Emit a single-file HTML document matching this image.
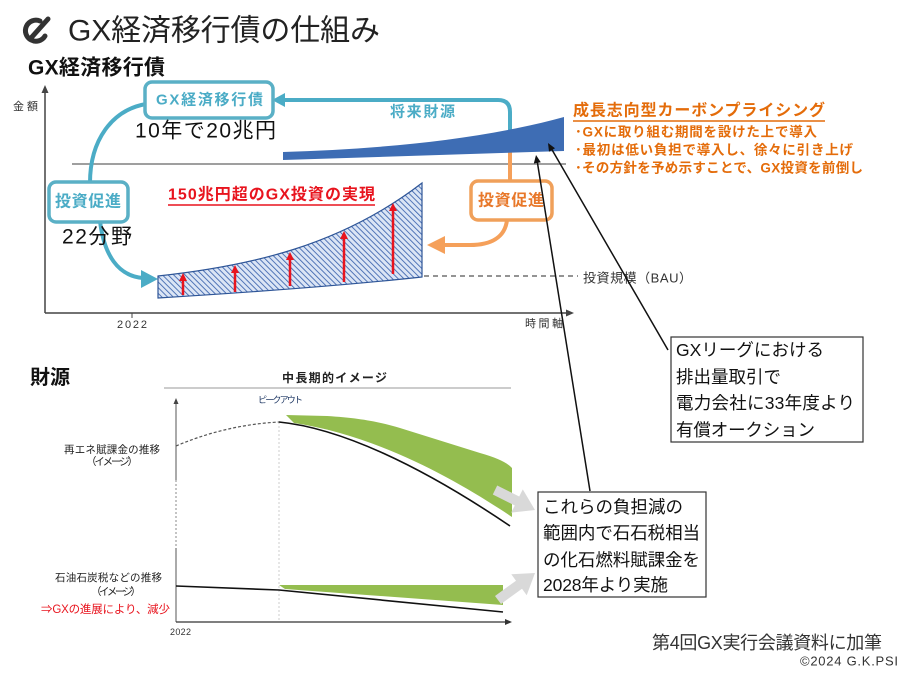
<!DOCTYPE html>
<html><head><meta charset="utf-8"><style>
html,body{margin:0;padding:0;background:#fff;}
svg{display:block;}
text{font-family:"Liberation Sans","Noto Sans CJK JP",sans-serif;dominant-baseline:central;}
</style></head><body>
<svg width="900" height="675" viewBox="0 0 900 675" xmlns="http://www.w3.org/2000/svg">
<defs>
<pattern id="h" width="4" height="4" patternUnits="userSpaceOnUse" patternTransform="rotate(-45)">
<rect width="4" height="4" fill="#dbe5f5"/>
<line x1="0" y1="0" x2="0" y2="4" stroke="#3a62ad" stroke-width="1.7"/>
</pattern>
</defs>
<rect width="900" height="675" fill="#fff"/>

<!-- icon -->
<path d="M40,21 A10.5,10.5 0 1 0 45,36" fill="none" stroke="#333" stroke-width="5" stroke-linecap="round"/>
<line x1="48" y1="19" x2="31" y2="38" stroke="#333" stroke-width="5" stroke-linecap="round"/>

<text x="68" y="31" font-size="30" fill="#222" textLength="312" lengthAdjust="spacing">GX経済移行債の仕組み</text>
<text x="28" y="68" font-size="21" font-weight="bold" fill="#111" textLength="137" lengthAdjust="spacing">GX経済移行債</text>

<!-- upper axes -->
<line x1="45" y1="90" x2="45" y2="313" stroke="#444" stroke-width="1.5"/>
<polygon points="45,85 41.5,93 48.5,93" fill="#444"/>
<line x1="45" y1="313" x2="568" y2="313" stroke="#444" stroke-width="1.5"/>
<polygon points="574,313 566,309.5 566,316.5" fill="#444"/>
<line x1="132" y1="313" x2="132" y2="318" stroke="#444" stroke-width="1"/>
<text x="13" y="107" font-size="11" fill="#333" textLength="25" lengthAdjust="spacing">金額</text>
<text x="117" y="325" font-size="11" fill="#333" textLength="30" lengthAdjust="spacing">2022</text>
<text x="525" y="324" font-size="11" fill="#333" textLength="38" lengthAdjust="spacing">時間軸</text>

<!-- gray horizontal -->
<line x1="72" y1="164" x2="566" y2="164" stroke="#666" stroke-width="1.2"/>

<!-- teal loop -->
<path d="M283,100 L498,100 Q510,100 510,112 L510,152" fill="none" stroke="#4bacc6" stroke-width="4"/>
<polygon points="272,100 285,93 285,107" fill="#4bacc6"/>
<path d="M146,104 C112,110 90,140 90,183" fill="none" stroke="#4bacc6" stroke-width="4"/>
<path d="M100,221 C104,255 118,276 143,278" fill="none" stroke="#4bacc6" stroke-width="4"/>
<polygon points="158,279 141,270 141,288" fill="#4bacc6"/>

<!-- orange -->
<line x1="510" y1="152" x2="510" y2="182" stroke="#f5a05a" stroke-width="4"/>
<path d="M507,220 C505,238 490,245 470,245 L443,245" fill="none" stroke="#f5a05a" stroke-width="4"/>
<polygon points="427,245 445,236 445,254" fill="#f5a05a"/>

<!-- blue wedge -->
<path d="M283,152 C380,149 480,140 564,117 L564,151 L283,160 Z" fill="#3e6db4"/>

<!-- boxes -->
<rect x="145" y="82" width="128" height="36" rx="7" fill="#fff" stroke="#5ab0c6" stroke-width="3.5"/>
<text x="156" y="100" font-size="15" font-weight="bold" fill="#4bacc6" textLength="107" lengthAdjust="spacing">GX経済移行債</text>
<rect x="49" y="182" width="79" height="40" rx="7" fill="#fff" stroke="#5ab0c6" stroke-width="3.5"/>
<text x="55" y="202" font-size="16" font-weight="bold" fill="#4bacc6" textLength="66" lengthAdjust="spacing">投資促進</text>
<rect x="471" y="181" width="81" height="39" rx="7" fill="#fff" stroke="#f0a05a" stroke-width="3.5"/>
<text x="478" y="201" font-size="16" font-weight="bold" fill="#e8782a" textLength="66" lengthAdjust="spacing">投資促進</text>

<text x="135" y="131" font-size="21" fill="#111" textLength="141" lengthAdjust="spacing">10年で20兆円</text>
<text x="62" y="237" font-size="21" fill="#111" textLength="70" lengthAdjust="spacing">22分野</text>
<text x="390" y="112" font-size="15" font-weight="bold" fill="#4bacc6" textLength="65" lengthAdjust="spacing">将来財源</text>

<!-- hatched -->
<path d="M158,276 C250,266 340,246 422,183 L422,277 C330,287 240,293 158,298 Z" fill="url(#h)" stroke="#2e5597" stroke-width="1.2"/>
<g stroke="#e8141e" stroke-width="2.5" fill="#e8141e">
<line x1="183" y1="295" x2="183" y2="280"/><polygon points="183,273 179,281 187,281" stroke="none"/>
<line x1="235" y1="292" x2="235" y2="272"/><polygon points="235,265 231,273 239,273" stroke="none"/>
<line x1="290" y1="286" x2="290" y2="259"/><polygon points="290,252 286,260 294,260" stroke="none"/>
<line x1="344" y1="282" x2="344" y2="238"/><polygon points="344,231 340,239 348,239" stroke="none"/>
<line x1="393" y1="274" x2="393" y2="210"/><polygon points="393,203 389,211 397,211" stroke="none"/>
</g>
<text x="168" y="195" font-size="16" font-weight="bold" fill="#e8141e" textLength="207" lengthAdjust="spacing">150兆円超のGX投資の実現</text>
<line x1="168" y1="205" x2="375" y2="205" stroke="#e8141e" stroke-width="1.5"/>

<!-- BAU -->
<line x1="424" y1="276" x2="578" y2="276" stroke="#555" stroke-width="1.2" stroke-dasharray="5,4"/>
<text x="583" y="278" font-size="13" fill="#333" textLength="109" lengthAdjust="spacing">投資規模（BAU）</text>

<!-- orange text -->
<text x="573" y="111" font-size="16" font-weight="bold" fill="#e46c0a" textLength="252" lengthAdjust="spacing">成長志向型カーボンプライシング</text>
<line x1="573" y1="121" x2="825" y2="121" stroke="#e46c0a" stroke-width="1.5"/>
<text x="575" y="132" font-size="13.5" font-weight="bold" fill="#e46c0a" textLength="242" lengthAdjust="spacing">･GXに取り組む期間を設けた上で導入</text>
<text x="575" y="150" font-size="13.5" font-weight="bold" fill="#e46c0a" textLength="278" lengthAdjust="spacing">･最初は低い負担で導入し、徐々に引き上げ</text>
<text x="575" y="168" font-size="13.5" font-weight="bold" fill="#e46c0a" textLength="288" lengthAdjust="spacing">･その方針を予め示すことで、GX投資を前倒し</text>

<!-- lower chart -->
<text x="30" y="378" font-size="20" font-weight="bold" fill="#111" textLength="40" lengthAdjust="spacing">財源</text>
<text x="282" y="378" font-size="12" font-weight="bold" fill="#222" textLength="105" lengthAdjust="spacing">中長期的イメージ</text>
<line x1="164" y1="388" x2="511" y2="388" stroke="#bbb" stroke-width="1.5"/>
<text x="258" y="400" font-size="9" fill="#1f3864" textLength="45" lengthAdjust="spacing">ピークアウト</text>

<line x1="176" y1="403" x2="176" y2="480" stroke="#555" stroke-width="1"/>
<polygon points="176,398 173.5,404 178.5,404" fill="#444"/>
<line x1="176" y1="480" x2="176" y2="548" stroke="#888" stroke-width="1" stroke-dasharray="2,2"/>
<line x1="176" y1="548" x2="176" y2="622" stroke="#555" stroke-width="1"/>
<line x1="176" y1="622" x2="506" y2="622" stroke="#333" stroke-width="1.2"/>
<polygon points="512,622 505,619 505,625" fill="#333"/>
<line x1="279" y1="422" x2="279" y2="620" stroke="#ccc" stroke-width="1" stroke-dasharray="2,2"/>

<path d="M286,415 L327,416 C360,418 380,422 400,428 L480,453 Q505,460 512,468 L512,517 C460,482 380,436 294,423 Z" fill="#94bd4f"/>
<path d="M176,446 Q225,425 279,422" fill="none" stroke="#555" stroke-width="1.2" stroke-dasharray="3,2"/>
<path d="M279,422 C340,428 420,465 510,526" fill="none" stroke="#111" stroke-width="1.6"/>

<path d="M279,585 L503,585 L503,605 L285,589 Z" fill="#94bd4f"/>
<path d="M176,586 L279,590 L503,612" fill="none" stroke="#111" stroke-width="1.6"/>

<polygon points="497.2,485.5 519.2,496.5 522.8,489.4 535,510 511.2,512.6 514.8,505.5 492.8,494.5" fill="#d9d9d9"/>
<polygon points="495,596 516,580.7 511.3,574.2 535,573 526.7,595.2 522,588.7 501,604" fill="#d9d9d9"/>

<text x="64" y="450" font-size="10.5" fill="#222" textLength="96" lengthAdjust="spacing">再エネ賦課金の推移</text>
<text x="86" y="462" font-size="10.5" fill="#222" textLength="52" lengthAdjust="spacing">（イメージ）</text>
<text x="55" y="578" font-size="10.5" fill="#222" textLength="107" lengthAdjust="spacing">石油石炭税などの推移</text>
<text x="91" y="592" font-size="10.5" fill="#222" textLength="50" lengthAdjust="spacing">（イメージ）</text>
<text x="41" y="610" font-size="11.5" fill="#e8141e" textLength="129" lengthAdjust="spacing">⇒GXの進展により、減少</text>
<text x="170" y="632" font-size="9" fill="#333" textLength="21" lengthAdjust="spacing">2022</text>

<!-- callout lines -->
<line x1="668" y1="350" x2="551" y2="148" stroke="#111" stroke-width="1.5"/>
<polygon points="548,143 555,148.2 549,151.8" fill="#111"/>
<line x1="590" y1="491" x2="537" y2="160" stroke="#111" stroke-width="1.5"/>
<polygon points="536,155 540.8,162.3 533.8,163.5" fill="#111"/>

<!-- GX league box -->
<rect x="671" y="337" width="192" height="105" fill="#fff" stroke="#333" stroke-width="1.2"/>
<g font-size="17.5" fill="#111">
<text x="676" y="350" textLength="148" lengthAdjust="spacing">GXリーグにおける</text>
<text x="676" y="377" textLength="105" lengthAdjust="spacing">排出量取引で</text>
<text x="676" y="403" textLength="179" lengthAdjust="spacing">電力会社に33年度より</text>
<text x="676" y="430" textLength="139" lengthAdjust="spacing">有償オークション</text>
</g>

<!-- これらの box -->
<rect x="538" y="492" width="168" height="105" fill="#fff" stroke="#333" stroke-width="1.2"/>
<g font-size="17.5" fill="#111">
<text x="543" y="507" textLength="140" lengthAdjust="spacing">これらの負担減の</text>
<text x="543" y="533" textLength="157" lengthAdjust="spacing">範囲内で石石税相当</text>
<text x="543" y="560" textLength="157" lengthAdjust="spacing">の化石燃料賦課金を</text>
<text x="543" y="585" textLength="125" lengthAdjust="spacing">2028年より実施</text>
</g>

<text x="652" y="643" font-size="18" fill="#333" textLength="230" lengthAdjust="spacing">第4回GX実行会議資料に加筆</text>
<text x="800" y="661" font-size="13" fill="#333" textLength="98" lengthAdjust="spacing">©2024 G.K.PSI</text>
</svg>
</body></html>
